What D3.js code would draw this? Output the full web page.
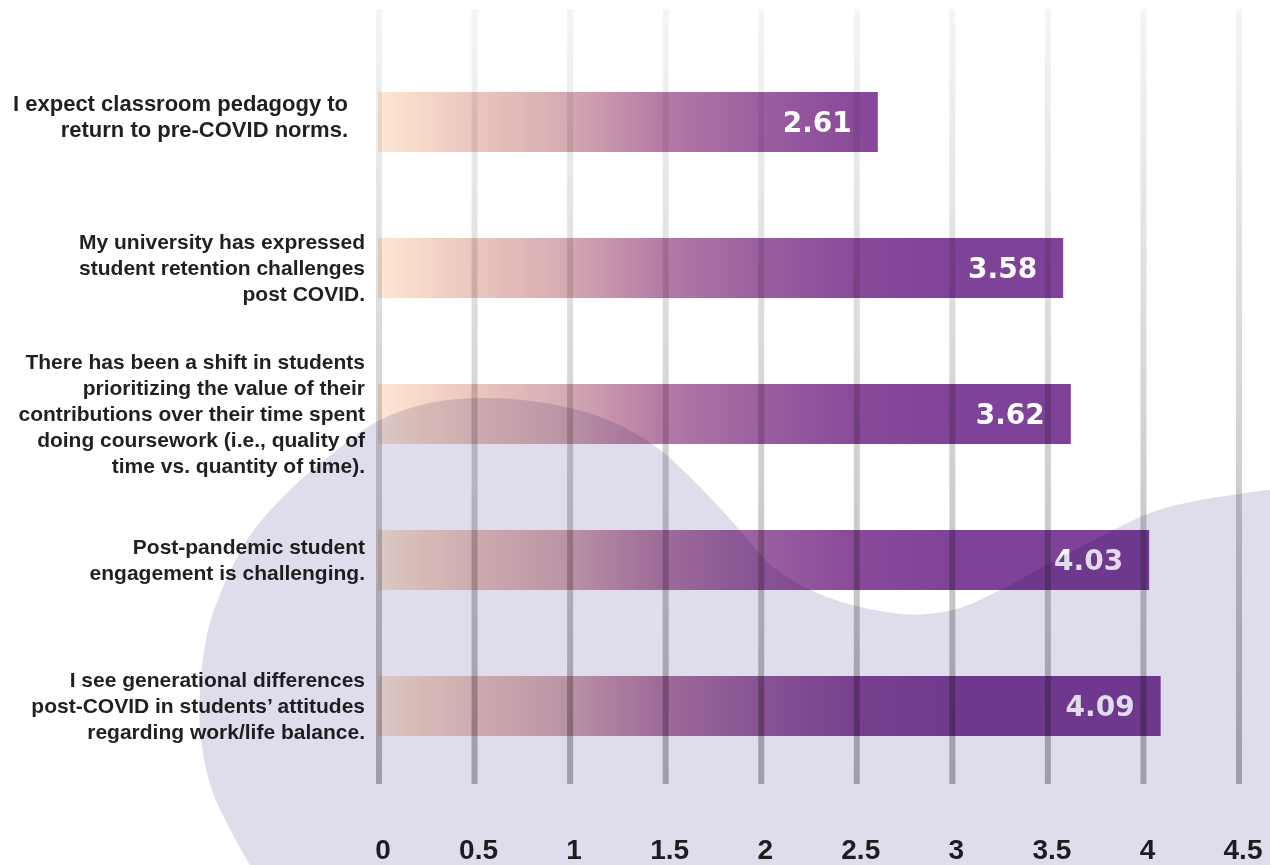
<!DOCTYPE html>
<html>
<head>
<meta charset="utf-8">
<script src="https://cdn.jsdelivr.net/npm/d3@7"></script>
<style>
  html, body { margin: 0; padding: 0; background: #ffffff; }
  #chart { width: 1270px; height: 865px; position: relative; overflow: hidden; }
</style>
</head>
<body>
<div id="chart"></div>
<script>
// statements, one entry per bar (already broken into lines like the source)
const categories = [
    ['I expect classroom pedagogy to', 'return to pre-COVID norms.'],
    ['My university has expressed', 'student retention challenges', 'post COVID.'],
    ['There has been a shift in students', 'prioritizing the value of their', 'contributions over their time spent', 'doing coursework (i.e., quality of', 'time vs. quantity of time).'],
    ['Post-pandemic student', 'engagement is challenging.'],
    ['I see generational differences', 'post-COVID in students\u2019 attitudes', 'regarding work/life balance.']
];
const values = [2.61, 3.58, 3.62, 4.03, 4.09];
const tickValues = [0, 0.5, 1, 1.5, 2, 2.5, 3, 3.5, 4, 4.5];
const tickLabels = ['0', '0.5', '1', '1.5', '2', '2.5', '3', '3.5', '4', '4.5'];

// decorative background blob outline
const blobOutline = [
    [250, 865], [232, 833], [212, 790], [201, 740], [200, 690], [206, 640], [213, 613],
    [247, 540], [290, 490], [337, 450], [380, 420], [430, 403], [487, 398], [545, 403],
    [603, 418], [655, 446], [700, 487], [737, 527], [773, 567], [827, 597], [893, 613],
    [927, 614], [960, 608], [1000, 590], [1050, 563], [1100, 537], [1150, 513], [1200, 500], [1275, 489]
];

const width = 1270;
const height = 865;
const textColor = '#231f20';

const x = d3.scaleLinear()
    .domain([0, 4.5])
    .range([379, 1239]);

const keys = categories.map((c, i) => `${i}`);
const y = d3.scaleBand()
    .domain(keys)
    .range([92, 736])
    .paddingInner(0.589)
    .paddingOuter(0);

const svg = d3.select('#chart')
    .append('svg')
    .attr('width', width)
    .attr('height', height)
    .style('isolation', 'isolate');

const defs = svg.append('defs');

const gridGrad = defs.append('linearGradient')
    .attr('id', 'grid-grad')
    .attr('gradientUnits', 'userSpaceOnUse')
    .attr('x1', 0).attr('x2', 0)
    .attr('y1', 9).attr('y2', 784);
gridGrad.append('stop').attr('offset', 0).attr('stop-color', '#f5f5f5');
gridGrad.append('stop').attr('offset', 1).attr('stop-color', '#b8b4b4');

const barGrad = defs.append('linearGradient')
    .attr('id', 'bar-grad')
    .attr('gradientUnits', 'userSpaceOnUse')
    .attr('x1', 378).attr('x2', 960)
    .attr('y1', 0).attr('y2', 0);
[
    [0.00, '#fbe9d8'],
    [0.05, '#f8dcc9'],
    [0.18, '#e9c3bd'],
    [0.31, '#d7adb3'],
    [0.48, '#b67ca6'],
    [0.65, '#9b60a0'],
    [0.83, '#88499a'],
    [1.00, '#7e4298']
].forEach(([o, c]) => barGrad.append('stop').attr('offset', o).attr('stop-color', c));

// vertical grid lines
svg.append('g')
    .attr('class', 'grid')
    .selectAll('rect')
    .data(tickValues)
    .enter()
    .append('rect')
    .attr('x', d => x(d) - 3)
    .attr('y', 9)
    .attr('width', 6)
    .attr('height', 775)
    .attr('fill', 'url(#grid-grad)');

// bars
svg.append('g')
    .attr('class', 'bars')
    .selectAll('rect')
    .data(values)
    .enter()
    .append('rect')
    .attr('x', x(0) - 1)
    .attr('y', (d, i) => y(keys[i]))
    .attr('width', d => x(d) - x(0) + 1)
    .attr('height', y.bandwidth())
    .attr('fill', 'url(#bar-grad)')
    .style('mix-blend-mode', 'multiply');

// value labels inside bars
svg.append('g')
    .attr('class', 'values')
    .selectAll('text')
    .data(values)
    .enter()
    .append('text')
    .attr('x', d => x(d) - 26)
    .attr('y', (d, i) => y(keys[i]) + y.bandwidth() / 2 + 10)
    .attr('text-anchor', 'end')
    .style('font-family', "'DejaVu Sans', sans-serif")
    .style('font-weight', 'bold')
    .style('font-size', '28px')
    .style('fill', '#ffffff')
    .text(d => d.toFixed(2));

// category labels (the first statement is set a bit larger in the source)
const lineHeight = 26;
const labelFont = i => i === 0 ? 22 : 21;
const labelRight = i => i === 0 ? 348 : 365;
const labelShift = i => i === 0 ? -5 : 0;

const labelGroups = svg.append('g')
    .attr('class', 'labels')
    .selectAll('text')
    .data(categories)
    .enter()
    .append('text')
    .attr('text-anchor', 'end')
    .style('font-family', "'Liberation Sans', Arial, sans-serif")
    .style('font-weight', 'bold')
    .style('font-size', (d, i) => `${labelFont(i)}px`)
    .style('fill', textColor);

labelGroups.each(function (lines, i) {
    const cy = y(keys[i]) + y.bandwidth() / 2 + labelShift(i);
    const firstBaseline = cy + 7 - (lines.length - 1) * lineHeight / 2;
    d3.select(this).selectAll('tspan')
        .data(lines)
        .enter()
        .append('tspan')
        .attr('x', labelRight(i))
        .attr('y', (l, j) => firstBaseline + j * lineHeight)
        .text(l => l);
});

// x axis labels
svg.append('g')
    .attr('class', 'x-axis')
    .selectAll('text')
    .data(tickValues)
    .enter()
    .append('text')
    .attr('x', d => x(d) + 4)
    .attr('y', 859)
    .attr('text-anchor', 'middle')
    .style('font-family', "'Liberation Sans', Arial, sans-serif")
    .style('font-weight', 'bold')
    .style('font-size', '28px')
    .style('fill', textColor)
    .text((d, i) => tickLabels[i]);

// lavender blob laid over everything
const blobLine = d3.line().curve(d3.curveCatmullRom.alpha(0.5));
svg.append('path')
    .attr('class', 'blob')
    .attr('d', blobLine(blobOutline) + 'L1275,870L250,870Z')
    .attr('fill', '#dfddec')
    .style('mix-blend-mode', 'multiply')
    .style('pointer-events', 'none');
</script>
</body>
</html>
